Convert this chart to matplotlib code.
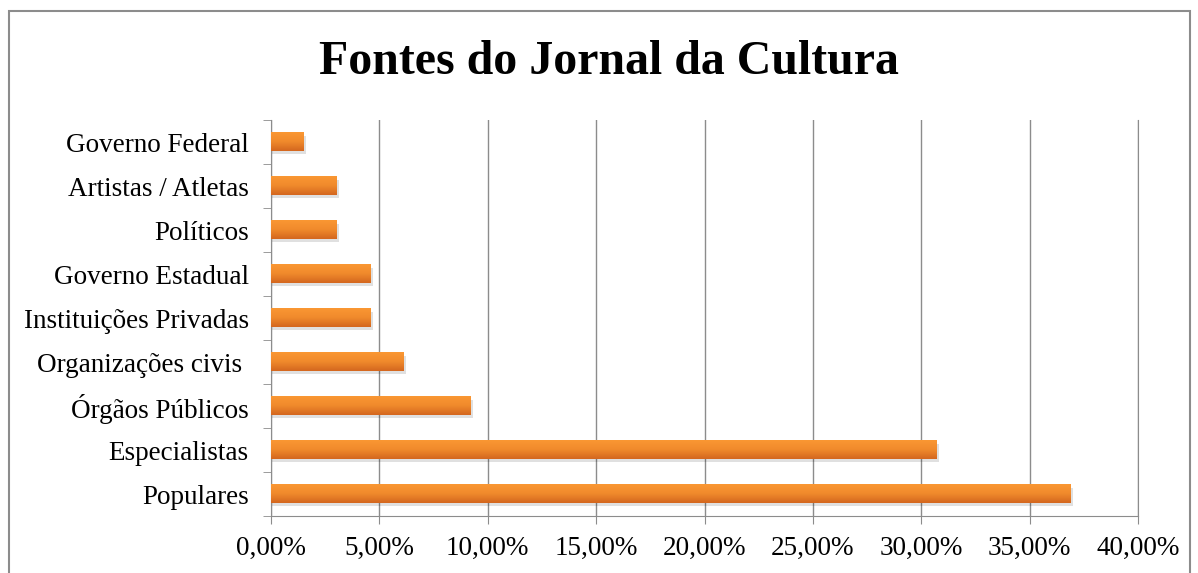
import numpy as np
import matplotlib.pyplot as plt
from matplotlib.patches import Rectangle
from matplotlib.colors import LinearSegmentedColormap

categorias = ["Populares", "Especialistas", "Órgãos Públicos", "Organizações civis ",
              "Instituições Privadas", "Governo Estadual", "Políticos",
              "Artistas / Atletas", "Governo Federal"]
valores = [36.9, 30.7, 9.2, 6.1, 4.6, 4.6, 3.0, 3.0, 1.5]
ticks_x = [0, 5, 10, 15, 20, 25, 30, 35, 40]
tick_labels = ["0,00%", "5,00%", "10,00%", "15,00%", "20,00%", "25,00%",
               "30,00%", "35,00%", "40,00%"]

plt.rcParams['font.family'] = ['Liberation Serif', 'DejaVu Serif']

fig = plt.figure(figsize=(11.98, 5.73), dpi=100)
ax = fig.add_axes([271 / 1198, 1 - 516 / 573, (1138 - 271) / 1198, 396 / 573])

# moldura do grafico
fig.patches.append(Rectangle((9 / 1198, -0.05), (1190 - 9) / 1198, 1.05 - 11 / 573,
                             transform=fig.transFigure, fill=False,
                             edgecolor="#8c8c8c", linewidth=1.5))

cmap = LinearSegmentedColormap.from_list("laranja", ["#fa9733", "#f08a2c", "#d4671f"])
grad = np.linspace(0, 1, 64).reshape(-1, 1)
h = 0.41
y = np.arange(len(categorias))
for yi, v in zip(y, valores):
    # sombra
    ax.add_patch(Rectangle((0, yi - h / 2 - 0.07), v + 0.12, h, facecolor="#000000",
                           alpha=0.12, linewidth=0, zorder=2))
    ax.imshow(grad, cmap=cmap, aspect="auto", extent=(0, v, yi - h / 2, yi + h / 2),
              origin="upper", zorder=3)

ax.set_xlim(0, 40)
ax.set_ylim(-0.5, len(categorias) - 0.5)
ax.set_xticks(ticks_x)
ax.set_xticklabels(tick_labels, fontsize=19.5)
ax.set_yticks(y)
ax.set_yticklabels(categorias, fontsize=19.5)
ax.set_yticks(np.arange(-0.5, len(categorias), 1), minor=True)
ax.tick_params(axis="y", which="major", length=0, pad=16)
ax.tick_params(axis="y", which="minor", length=6, color="#8c8c8c")
ax.tick_params(axis="x", length=6, color="#8c8c8c", pad=8)
ax.grid(axis="x", color="#8c8c8c", linewidth=1, zorder=0)
ax.set_axisbelow(True)
ax.spines["top"].set_visible(False)
for s in ["left", "bottom", "right"]:
    ax.spines[s].set_color("#8c8c8c")

fig.text(609 / 1198, 1 - 62 / 573, "Fontes do Jornal da Cultura", ha="center", va="center",
         fontsize=34.5, fontweight="bold")

fig.savefig("out.png", dpi=100)
